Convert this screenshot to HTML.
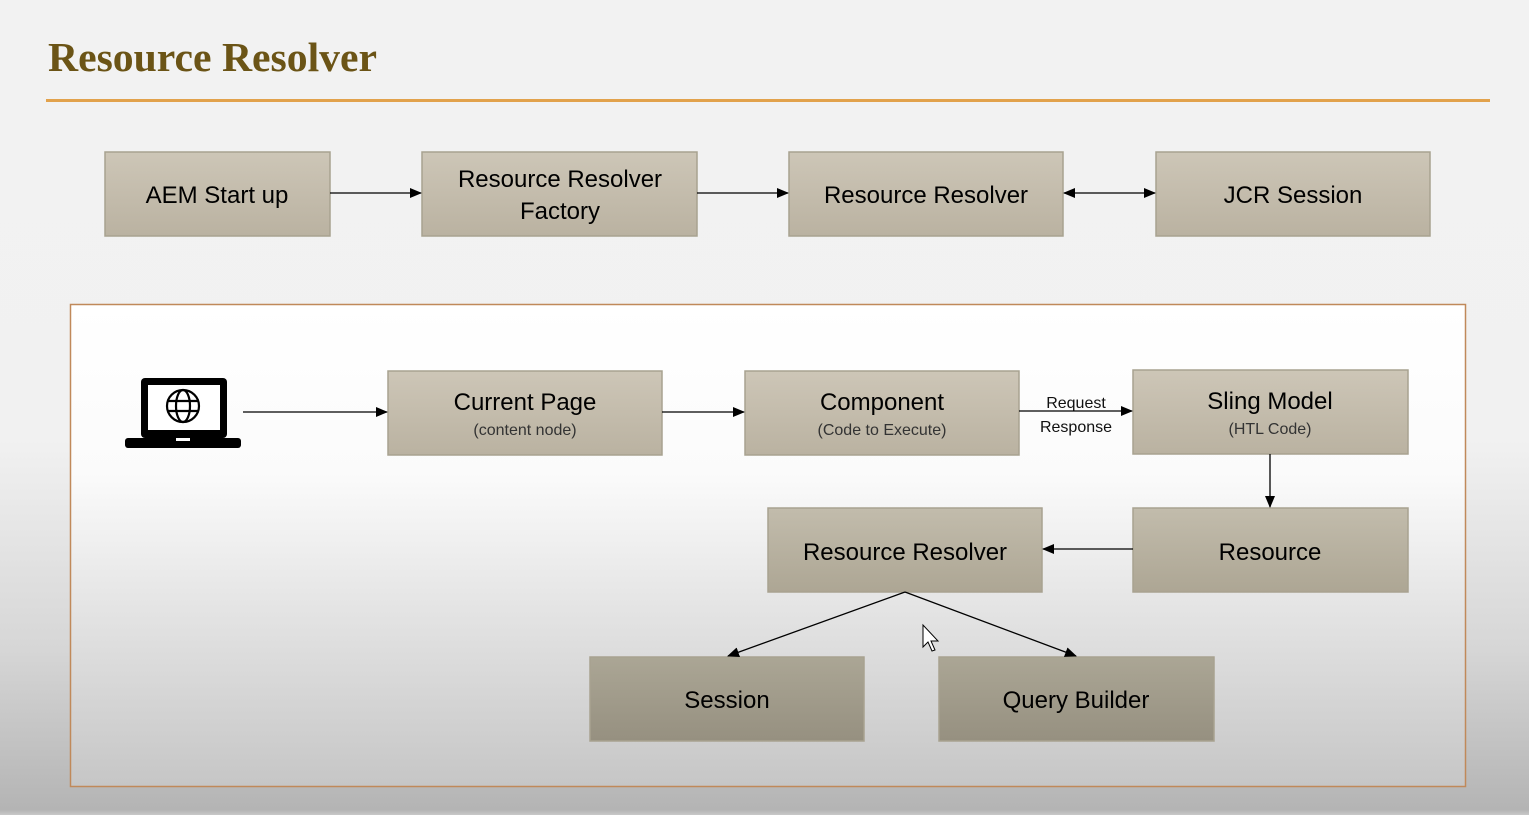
<!DOCTYPE html>
<html><head><style>
html,body{margin:0;padding:0}
body{width:1529px;height:815px;overflow:hidden;background:linear-gradient(#f2f2f2 0,#f1f1f1 440px,#d6d6d6 650px,#b4b4b4 810px,#c8c8c8 815px);font-family:"Liberation Sans",sans-serif;position:relative}
svg{position:absolute;left:0;top:0}
</style></head><body>
<svg width="1529" height="815" viewBox="0 0 1529 815">
<defs>
<linearGradient id="inner" x1="0" y1="0" x2="0" y2="1">
<stop offset="0" stop-color="#ffffff"/><stop offset="0.35" stop-color="#fbfbfb"/><stop offset="1" stop-color="#c6c6c6"/></linearGradient>
<linearGradient id="bx" x1="0" y1="0" x2="0" y2="1">
<stop offset="0" stop-color="#cdc6b7"/><stop offset="1" stop-color="#bab2a1"/></linearGradient>
<linearGradient id="bx2" x1="0" y1="0" x2="0" y2="1">
<stop offset="0" stop-color="#c2bcac"/><stop offset="1" stop-color="#ada694"/></linearGradient>
<linearGradient id="bx3" x1="0" y1="0" x2="0" y2="1">
<stop offset="0" stop-color="#aba695"/><stop offset="1" stop-color="#969080"/></linearGradient>
<marker id="a" markerWidth="12" markerHeight="10" refX="11" refY="5" orient="auto" markerUnits="userSpaceOnUse"><path d="M0,0 L12,5 L0,10z" fill="#000"/></marker>
<marker id="s" markerWidth="12" markerHeight="10" refX="1" refY="5" orient="auto" markerUnits="userSpaceOnUse"><path d="M12,0 L0,5 L12,10z" fill="#000"/></marker>
</defs>
<text x="48" y="71" font-family="Liberation Serif,serif" font-weight="bold" font-size="41" fill="#6b5416" textLength="329" lengthAdjust="spacingAndGlyphs">Resource Resolver</text>
<rect x="46" y="99" width="1444" height="3" fill="#e2a24c"/>
<g stroke="#a8a290" stroke-width="1.5" fill="url(#bx)">
<rect x="105" y="152" width="225" height="84"/>
<rect x="422" y="152" width="275" height="84"/>
<rect x="789" y="152" width="274" height="84"/>
<rect x="1156" y="152" width="274" height="84"/>
</g>
<g font-size="24" text-anchor="middle" fill="#000" font-family="Liberation Sans,sans-serif">
<text x="217" y="203">AEM Start up</text>
<text x="560" y="187">Resource Resolver</text>
<text x="560" y="219">Factory</text>
<text x="926" y="203">Resource Resolver</text>
<text x="1293" y="203">JCR Session</text>
</g>
<g stroke="#000" stroke-width="1.3">
<line x1="330" y1="193" x2="421" y2="193" marker-end="url(#a)"/>
<line x1="697" y1="193" x2="788" y2="193" marker-end="url(#a)"/>
<line x1="1064" y1="193" x2="1155" y2="193" marker-end="url(#a)" marker-start="url(#s)"/>
</g>
<rect x="70.5" y="304.5" width="1395" height="482" fill="url(#inner)" stroke="#c0895a" stroke-width="1.5"/>
<rect x="141" y="378" width="86" height="60" rx="4" fill="#000"/>
<rect x="148" y="385" width="72" height="45" fill="#fff"/>
<rect x="125" y="438" width="116" height="10" rx="3" fill="#000"/>
<rect x="176" y="438" width="14" height="3" fill="#fff"/>
<g fill="none" stroke="#000" stroke-width="2.2">
<circle cx="183" cy="406" r="16"/>
<ellipse cx="183" cy="406" rx="7" ry="16"/>
<line x1="167" y1="401" x2="199" y2="401"/>
<line x1="167" y1="411" x2="199" y2="411"/>
</g>
<g stroke="#a8a290" stroke-width="1.5">
<rect x="388" y="371" width="274" height="84" fill="url(#bx)"/>
<rect x="745" y="371" width="274" height="84" fill="url(#bx)"/>
<rect x="1133" y="370" width="275" height="84" fill="url(#bx)"/>
<rect x="1133" y="508" width="275" height="84" fill="url(#bx2)"/>
<rect x="768" y="508" width="274" height="84" fill="url(#bx2)"/>
<rect x="590" y="657" width="274" height="84" fill="url(#bx3)"/>
<rect x="939" y="657" width="275" height="84" fill="url(#bx3)"/>
</g>
<g font-size="24" text-anchor="middle" fill="#000" font-family="Liberation Sans,sans-serif">
<text x="525" y="410">Current Page</text>
<text x="882" y="410">Component</text>
<text x="1270" y="409">Sling Model</text>
<text x="1270" y="560">Resource</text>
<text x="905" y="560">Resource Resolver</text>
<text x="727" y="708">Session</text>
<text x="1076" y="708">Query Builder</text>
</g>
<g font-size="16" text-anchor="middle" fill="#333" font-family="Liberation Sans,sans-serif">
<text x="525" y="435">(content node)</text>
<text x="882" y="435">(Code to Execute)</text>
<text x="1270" y="434">(HTL Code)</text>
<text x="1076" y="408" fill="#111">Request</text>
<text x="1076" y="432" fill="#111">Response</text>
</g>
<g stroke="#000" stroke-width="1.3" fill="none">
<line x1="243" y1="412" x2="387" y2="412" marker-end="url(#a)"/>
<line x1="662" y1="412" x2="744" y2="412" marker-end="url(#a)"/>
<line x1="1019" y1="411" x2="1132" y2="411" marker-end="url(#a)"/>
<line x1="1270" y1="454" x2="1270" y2="507" marker-end="url(#a)"/>
<line x1="1133" y1="549" x2="1043" y2="549" marker-end="url(#a)"/>
<line x1="905" y1="592" x2="728" y2="656" marker-end="url(#a)"/>
<line x1="905" y1="592" x2="1076" y2="656" marker-end="url(#a)"/>
</g>
<path d="M923,625 L923,647 L928,642 L932,651 L935,650 L931,641 L938,641z" fill="#fff" stroke="#000" stroke-width="1"/>
</svg>
</body></html>
